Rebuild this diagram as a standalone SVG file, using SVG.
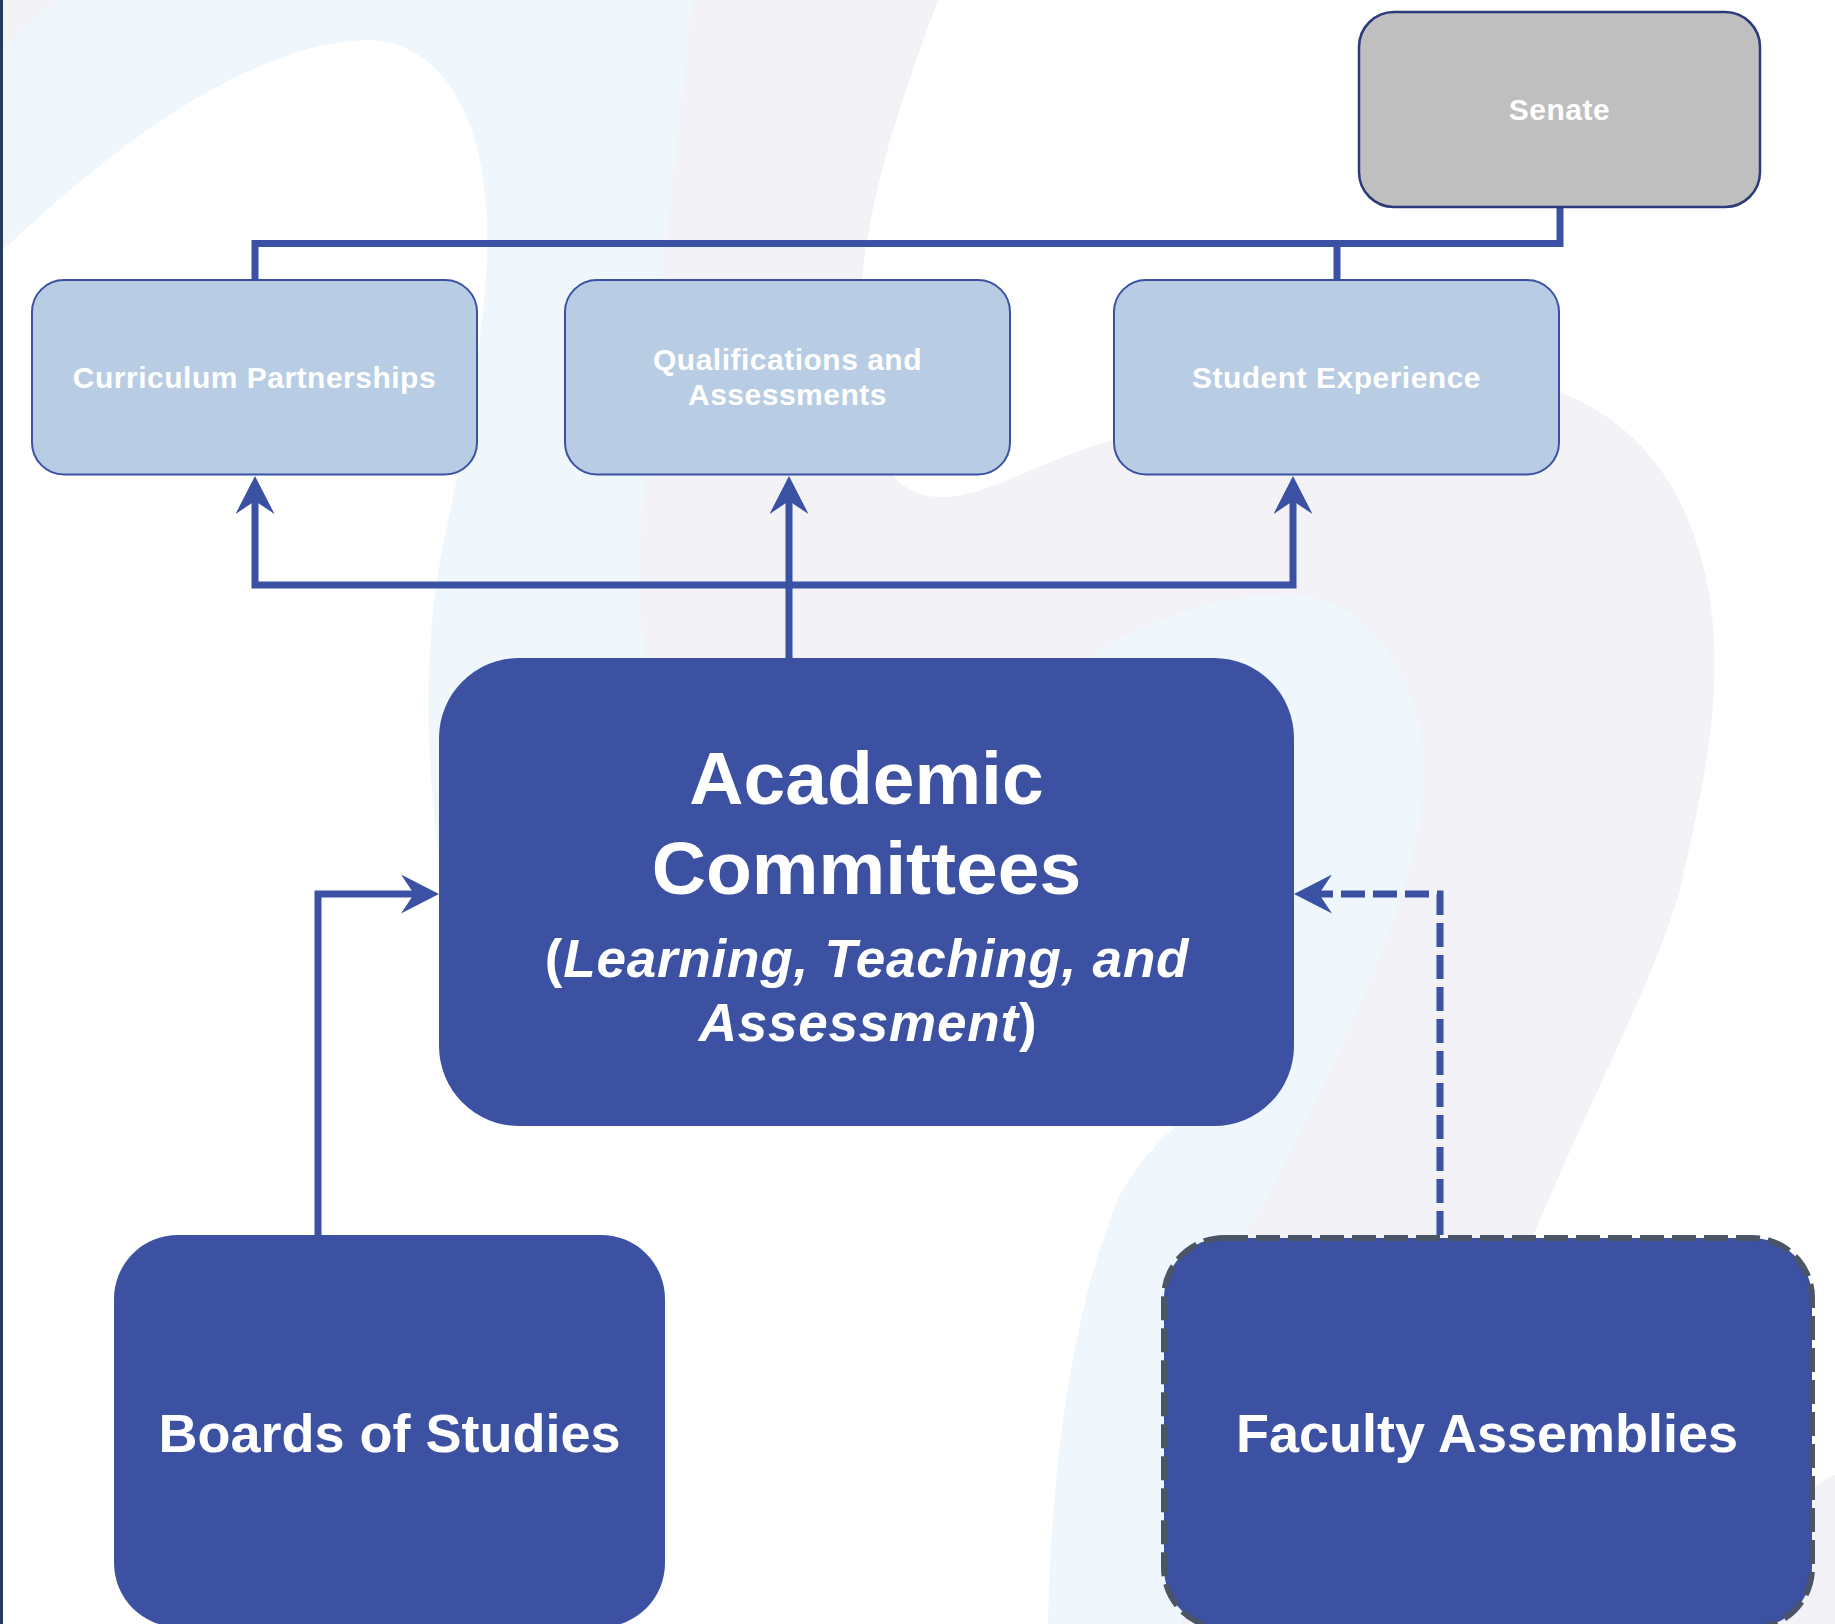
<svg xmlns="http://www.w3.org/2000/svg" width="1835" height="1624" viewBox="0 0 1835 1624">
  <style>
    .bg-gray { fill: #f2f2f7; }
    .bg-blue { fill: #eff7fc; }
    .light { fill: #b8cce4; stroke: #3b51a3; stroke-width: 2; }
    .senate { fill: #bfbfbf; stroke: #2b3a7a; stroke-width: 2.5; }
    .dark { fill: #3c51a2; }
    .dashed-node { fill: #3c51a2; stroke: #4a5568; stroke-width: 6; stroke-dasharray: 24 8; }
    .conn { fill: none; stroke: #3b51a3; stroke-width: 7; stroke-linejoin: miter; }
    .dash { stroke-dasharray: 24 8; }
    text { font-family: "Liberation Sans", Arial, sans-serif; font-weight: bold; fill: #ffffff; text-anchor: middle; }
    .small { font-size: 30px; letter-spacing: 0.5px; }
    .big { font-size: 75px; }
    .sub { font-size: 53px; letter-spacing: 0.8px; }
    .mid { font-size: 54px; }
    .it { font-style: italic; }
  </style>
  <defs>
    <marker id="arrow" viewBox="0 0 38 39" refX="18" refY="19.5" markerWidth="38" markerHeight="39" markerUnits="userSpaceOnUse" orient="auto-start-reverse">
      <path d="M0,0 L38,19.5 L0,39 L13,19.5 Z" fill="#3b51a3"/>
    </marker>
  </defs>

  <!-- background -->
  <rect x="0" y="0" width="1835" height="1624" fill="#ffffff"/>
  <g id="background">
    <path class="bg-gray" d="M0,0 L100,0 L0,100 Z"/>
    <path class="bg-gray" d="M600,0 L938,0 C905,90 868,190 860,300 C855,400 870,497 940,497 C990,497 1040,460 1113,440 L1300,420 L1559,392 C1620,415 1690,470 1710,600 C1725,700 1700,800 1679,894 C1650,990 1580,1120 1533,1237 L1480,1624 L1120,1624 L1200,1250 L1280,1100 L1300,1000 L1300,700 L1000,800 L560,800 L560,400 Z"/>
    <path class="bg-gray" d="M1750,1624 C1770,1530 1800,1490 1835,1475 L1835,1624 Z"/>
    <path class="bg-blue" d="M60,0 L692,0 C680,150 640,400 640,600 L648,700 L1050,700 L1096,652 C1150,620 1220,594 1290,594 C1360,596 1410,660 1422,740 C1432,820 1400,920 1346,1036 C1310,1115 1270,1200 1240,1240 L1180,1624 L1048,1624 C1052,1450 1075,1300 1120,1195 C1140,1160 1160,1140 1175,1127 L700,950 L439,860 C430,780 420,680 440,560 C470,420 490,300 487,220 C484,130 450,40 364,40 C250,45 120,140 3,250 L0,250 L0,50 L3,50 C20,30 40,10 60,0 Z"/>
    <rect x="0" y="0" width="3" height="1624" fill="#263b5e"/>
  </g>

  <!-- connectors -->
  <g id="connectors">
    <path class="conn" d="M1560,207 V243.5 H255 V280"/>
    <path class="conn" d="M1337,243.5 V280"/>
    <path class="conn" d="M255,496 V585 H1293 V496" marker-start="url(#arrow)" marker-end="url(#arrow)"/>
    <path class="conn" d="M789,658 V496" marker-end="url(#arrow)"/>
    <path class="conn" d="M318,1235 V894 H419" marker-end="url(#arrow)"/>
    <path class="conn dash" d="M1440,1235 V894 H1314" marker-end="url(#arrow)"/>
  </g>

  <!-- nodes -->
  <g id="senate">
    <rect class="senate" x="1359" y="12" width="401" height="195" rx="35" ry="35"/>
    <text class="small" x="1559.5" y="120">Senate</text>
  </g>
  <g id="curriculum-partnerships">
    <rect class="light" x="32" y="280" width="445" height="194.5" rx="32" ry="32"/>
    <text class="small" x="254.5" y="388">Curriculum Partnerships</text>
  </g>
  <g id="qualifications-assessments">
    <rect class="light" x="565" y="280" width="445" height="194.5" rx="32" ry="32"/>
    <text class="small" x="787.5" y="370">Qualifications and</text>
    <text class="small" x="787.5" y="405">Assessments</text>
  </g>
  <g id="student-experience">
    <rect class="light" x="1114" y="280" width="445" height="194.5" rx="32" ry="32"/>
    <text class="small" x="1336.5" y="388">Student Experience</text>
  </g>
  <g id="academic-committees">
    <rect class="dark" x="439" y="658" width="855" height="468" rx="80" ry="80"/>
    <text class="big" x="866.5" y="804">Academic</text>
    <text class="big" x="866.5" y="894">Committees</text>
    <text class="sub" x="867" y="977">(<tspan class="it">Learning, Teaching, and</tspan></text>
    <text class="sub" x="868" y="1041"><tspan class="it">Assessment</tspan>)</text>
  </g>
  <g id="boards-of-studies">
    <rect class="dark" x="114" y="1235" width="551" height="392" rx="64" ry="64"/>
    <text class="mid" x="389.5" y="1452">Boards of Studies</text>
  </g>
  <g id="faculty-assemblies">
    <rect class="dashed-node" x="1164" y="1238" width="648" height="390" rx="60" ry="60"/>
    <text class="mid" x="1487" y="1452">Faculty Assemblies</text>
  </g>
</svg>
